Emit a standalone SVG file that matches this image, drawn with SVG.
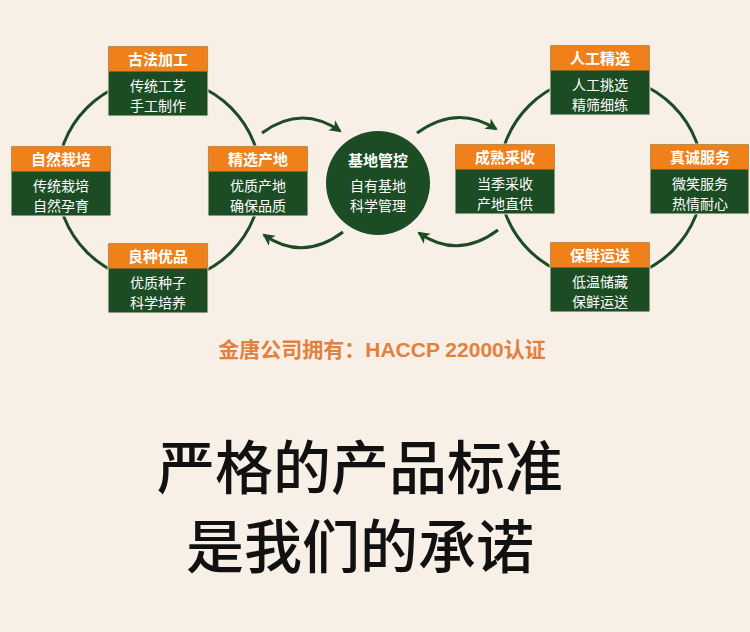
<svg xmlns="http://www.w3.org/2000/svg" width="750" height="632" viewBox="0 0 750 632">
<defs>
<style>
.hd{fill:#ef801a}
.bd{fill:#1b4c23}
.bx{stroke:#f4e9dc;stroke-width:1}
.ht{font-family:"Noto Sans CJK SC",sans-serif;font-size:15px;font-weight:bold;fill:#fff;text-anchor:middle}
.bt{font-family:"Noto Sans CJK SC",sans-serif;font-size:14px;fill:#fff;text-anchor:middle}
.ring{fill:none;stroke:#1b4c23;stroke-width:3}
.arc{fill:none;stroke:#1b4c23;stroke-width:3}
</style>
<marker id="ah" markerUnits="userSpaceOnUse" markerWidth="14" markerHeight="14" refX="10" refY="7" orient="auto">
<path d="M0,1 L12,7 L0,13 L3,7 Z" fill="#1b4c23"/>
</marker>
</defs>
<rect width="750" height="632" fill="#f8efe6"/>
<g id="connectors">
<circle class="ring" cx="159" cy="180" r="102"/>
<circle class="ring" cx="601" cy="178" r="102"/>
<path class="arc" d="M262,133 Q301,104 340,131" marker-end="url(#ah)"/>
<path class="arc" d="M343,232 Q303,262 264,235" marker-end="url(#ah)"/>
<path class="arc" d="M417,133 Q457,104 496,129" marker-end="url(#ah)"/>
<path class="arc" d="M498,230 Q458,260 419,233" marker-end="url(#ah)"/>
</g>
<g id="n-gufa">
<rect class="bd bx" x="108" y="46" width="100" height="70"/>
<rect class="hd" x="108.5" y="46.5" width="99" height="25"/>
<text class="ht" x="158" y="65">古法加工</text>
<text class="bt" x="158" y="91">传统工艺</text>
<text class="bt" x="158" y="111">手工制作</text>
</g>
<g id="n-ziran">
<rect class="bd bx" x="11" y="146" width="100" height="70"/>
<rect class="hd" x="11.5" y="146.5" width="99" height="25"/>
<text class="ht" x="61" y="165">自然栽培</text>
<text class="bt" x="61" y="191">传统栽培</text>
<text class="bt" x="61" y="211">自然孕育</text>
</g>
<g id="n-liangzhong">
<rect class="bd bx" x="108" y="243" width="100" height="70"/>
<rect class="hd" x="108.5" y="243.5" width="99" height="25"/>
<text class="ht" x="158" y="262">良种优品</text>
<text class="bt" x="158" y="288">优质种子</text>
<text class="bt" x="158" y="308">科学培养</text>
</g>
<g id="n-jingxuan">
<rect class="bd bx" x="208" y="146" width="100" height="70"/>
<rect class="hd" x="208.5" y="146.5" width="99" height="25"/>
<text class="ht" x="258" y="165">精选产地</text>
<text class="bt" x="258" y="191">优质产地</text>
<text class="bt" x="258" y="211">确保品质</text>
</g>
<g id="n-jidi">
<circle cx="378" cy="183" r="52" fill="#1b4c23"/>
<text class="ht" x="378" y="166">基地管控</text>
<text class="bt" x="378" y="191">自有基地</text>
<text class="bt" x="378" y="211">科学管理</text>
</g>
<g id="n-rengong">
<rect class="bd bx" x="550" y="45" width="100" height="70"/>
<rect class="hd" x="550.5" y="45.5" width="99" height="25"/>
<text class="ht" x="600" y="64">人工精选</text>
<text class="bt" x="600" y="90">人工挑选</text>
<text class="bt" x="600" y="110">精筛细练</text>
</g>
<g id="n-chengshu">
<rect class="bd bx" x="455" y="144" width="100" height="70"/>
<rect class="hd" x="455.5" y="144.5" width="99" height="25"/>
<text class="ht" x="505" y="163">成熟采收</text>
<text class="bt" x="505" y="189">当季采收</text>
<text class="bt" x="505" y="209">产地直供</text>
</g>
<g id="n-zhencheng">
<rect class="bd bx" x="650" y="144" width="99" height="70"/>
<rect class="hd" x="650.5" y="144.5" width="98" height="25"/>
<text class="ht" x="700" y="163">真诚服务</text>
<text class="bt" x="700" y="189">微笑服务</text>
<text class="bt" x="700" y="209">热情耐心</text>
</g>
<g id="n-baoxian">
<rect class="bd bx" x="550" y="242" width="100" height="70"/>
<rect class="hd" x="550.5" y="242.5" width="99" height="25"/>
<text class="ht" x="600" y="261">保鲜运送</text>
<text class="bt" x="600" y="287">低温储藏</text>
<text class="bt" x="600" y="307">保鲜运送</text>
</g>
<text x="382" y="357" text-anchor="middle" font-family="Liberation Sans,Noto Sans CJK SC,sans-serif" font-size="21" font-weight="bold" fill="#e2813f">金唐公司拥有：HACCP 22000认证</text>
<text x="360" y="489" text-anchor="middle" font-family="Noto Sans CJK SC,sans-serif" font-size="58" font-weight="500" fill="#111">严格的产品标准</text>
<text x="360" y="568" text-anchor="middle" font-family="Noto Sans CJK SC,sans-serif" font-size="58" font-weight="500" fill="#111">是我们的承诺</text>
</svg>
